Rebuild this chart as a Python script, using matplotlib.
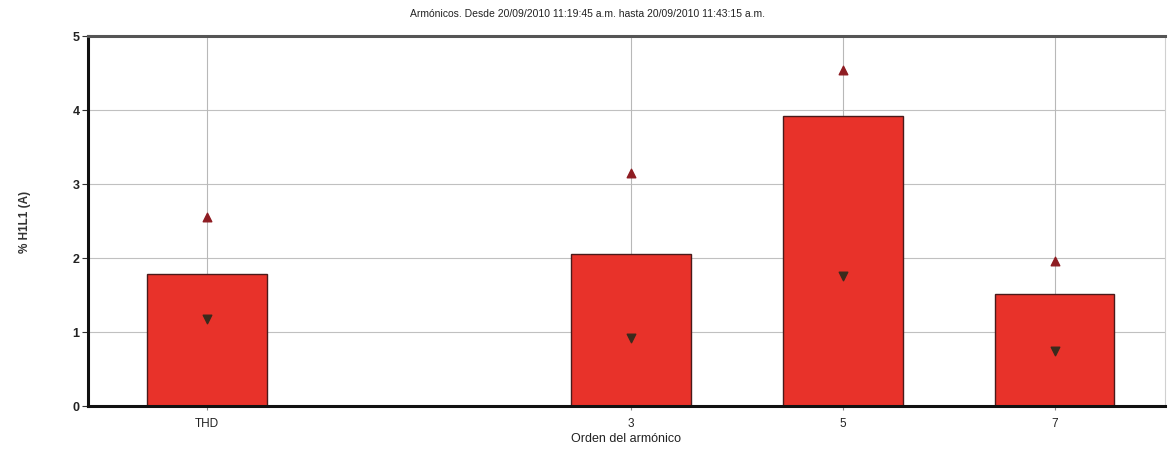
import matplotlib
matplotlib.use("Agg")
import matplotlib.pyplot as plt

plt.rcParams['font.family'] = ['Liberation Sans', 'DejaVu Sans']

# Harmonic order data (slot position on the x axis, label, mean, max, min)
positions = [0, 2, 3, 4]
labels = ["THD", "3", "5", "7"]
mean_vals = [1.78, 2.05, 3.92, 1.51]
max_vals = [2.55, 3.15, 4.54, 1.96]
min_vals = [1.18, 0.92, 1.76, 0.74]
y_ticks = [0, 1, 2, 3, 4, 5]

title = "Armónicos. Desde 20/09/2010 11:19:45 a.m. hasta 20/09/2010 11:43:15 a.m."

fig = plt.figure(figsize=(11.68, 4.52), dpi=100)
ax = fig.add_axes([0.0753, 0.0996, 0.922, 0.8186])

ax.set_xlim(-0.56, 4.52)
ax.set_ylim(0, 5)

# gridlines
for y in y_ticks[1:-1]:
    ax.axhline(y, color="#c0c0c0", lw=0.8, zorder=0)
for x in positions:
    ax.axvline(x, color="#b8b8b8", lw=0.8, zorder=0)

ax.bar(positions, mean_vals, width=0.565, color="#e8322a",
       edgecolor="#4a1a1a", linewidth=1.0, zorder=2)
ax.scatter(positions, max_vals, marker="^", s=38, color="#8e1c22", zorder=3)
ax.scatter(positions, min_vals, marker="v", s=38, color="#3a2a1c", zorder=3)

ax.set_xticks(positions)
ax.set_xticklabels(labels, fontsize=8.5, color="#222222")
ax.set_yticks(y_ticks)
ax.set_yticklabels([str(v) for v in y_ticks], fontsize=9, color="#222222",
                   fontweight="bold")
ax.tick_params(axis="x", length=3, width=0.8, color="#888888", pad=5)
ax.tick_params(axis="y", length=4, width=0.8, color="#333333", pad=2)

for side in ("left", "bottom"):
    ax.spines[side].set_color("#111111")
    ax.spines[side].set_linewidth(2.2)
ax.spines["top"].set_color("#555555")
ax.spines["top"].set_linewidth(2.2)
ax.spines["right"].set_color("#d0d0d0")
ax.spines["right"].set_linewidth(0.8)

ax.set_xlabel("Orden del armónico", fontsize=9, color="#222222", labelpad=2)
ax.set_ylabel("% H1L1 (A)", fontsize=8.5, color="#333333", labelpad=30,
              fontweight="bold")
fig.text(587 / 1168, 1 - 14 / 452, title, fontsize=7.5, color="#222222",
         ha="center", va="center")

fig.savefig("out.png", dpi=100, facecolor="white")
